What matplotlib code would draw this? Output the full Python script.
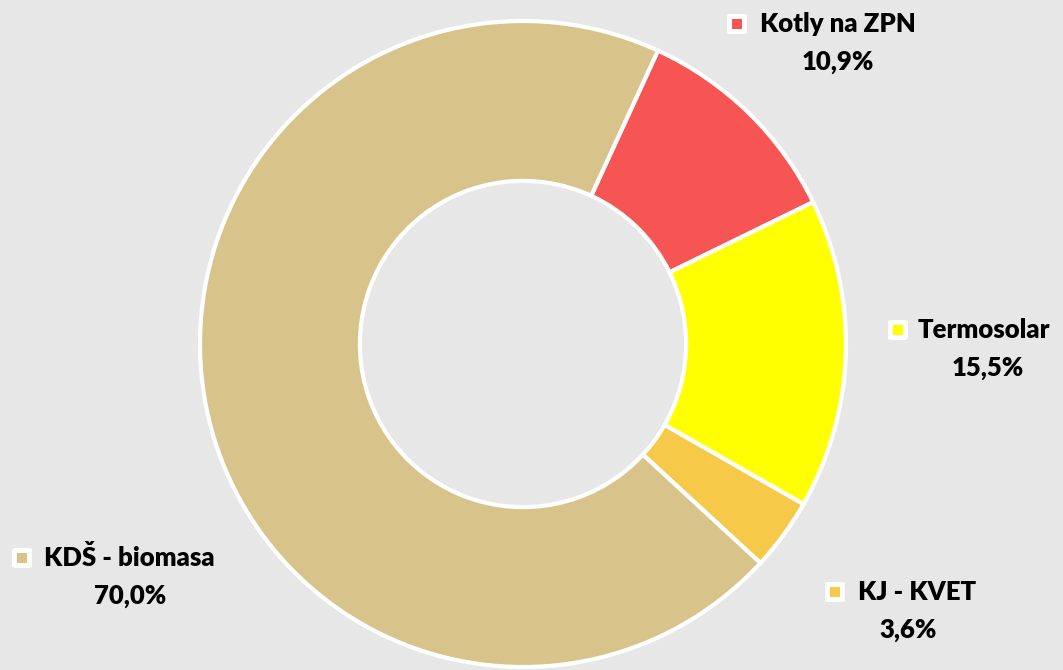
import matplotlib
matplotlib.use("Agg")
import matplotlib.pyplot as plt
from matplotlib.patches import FancyBboxPatch

categories = ["Kotly na ZPN", "Termosolar", "KJ - KVET", "KDŠ - biomasa"]
values = [10.9, 15.5, 3.6, 70.0]
pct_labels = ["10,9%", "15,5%", "3,6%", "70,0%"]
colors = ["#F75454", "#FFFF00", "#F7C948", "#D8C38B"]
bg = "#E7E7E7"

W, H = 1063, 670
fig = plt.figure(figsize=(W / 100, H / 100), dpi=100)
fig.patch.set_facecolor(bg)

cx, cy, R = 523, 344, 323
ax = fig.add_axes([(cx - R) / W, (H - cy - R) / H, 2 * R / W, 2 * R / H])
ax.set_facecolor(bg)
ax.pie(values, colors=colors, startangle=90 - 24.7, counterclock=False,
       radius=1.0, wedgeprops=dict(width=0.495, edgecolor="white", linewidth=3))
ax.set_xlim(-1, 1)
ax.set_ylim(-1, 1)
ax.set_aspect("equal")
ax.axis("off")

# label layout (figure pixel positions): marker x, text left x, line y, pct center x
label_pos = [
    (737, 760, 24, 838),
    (898, 918, 330, 988),
    (835, 858, 592, 908),
    (22, 44, 558, 130),
]
font = dict(family=["Lato", "DejaVu Sans"], weight="heavy", color="#000000")
fs = 18.5
for (mx, tx, ty, px), cat, pct, col in zip(label_pos, categories, pct_labels, colors):
    s_out, s_in = 20, 10
    fig.patches.append(FancyBboxPatch(((mx - s_out / 2) / W, 1 - (ty + s_out / 2) / H),
                                      s_out / W, s_out / H,
                                      boxstyle="round,pad=0,rounding_size=0.003",
                                      transform=fig.transFigure, facecolor="white",
                                      edgecolor="none"))
    fig.patches.append(plt.Rectangle(((mx - s_in / 2) / W, 1 - (ty + s_in / 2) / H),
                                     s_in / W, s_in / H, transform=fig.transFigure,
                                     facecolor=col, edgecolor="none"))
    fig.text(tx / W, 1 - ty / H, cat, ha="left", va="center", fontsize=fs, **font)
    fig.text(px / W, 1 - (ty + 38) / H, pct, ha="center", va="center", fontsize=fs, **font)

fig.savefig("out.png", dpi=100, facecolor=bg)
